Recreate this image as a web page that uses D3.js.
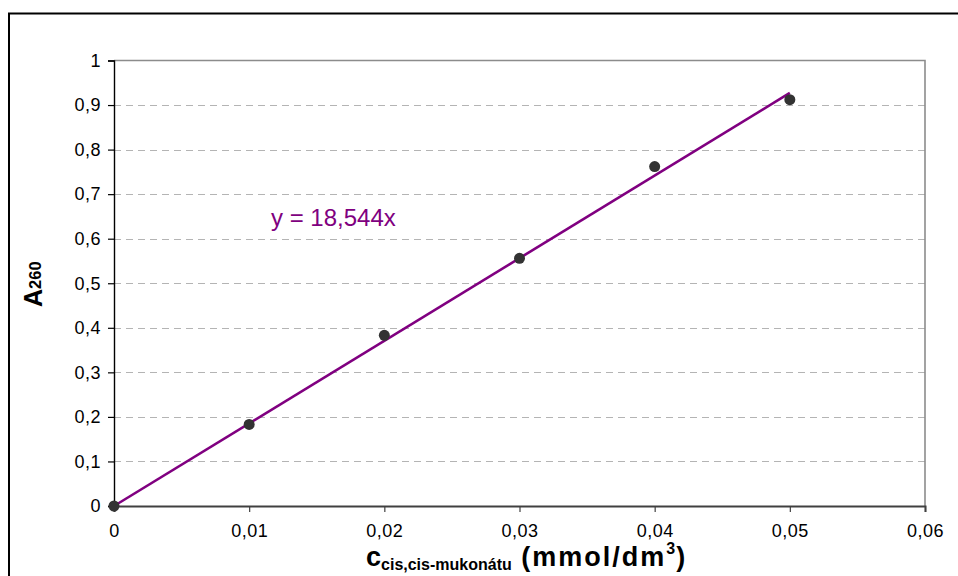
<!DOCTYPE html>
<html>
<head>
<meta charset="utf-8">
<script src="https://cdn.jsdelivr.net/npm/d3@7"></script>
<style>
  html, body { margin: 0; padding: 0; background: #fff; }
  svg { display: block; font-family: "Liberation Sans", Arial, sans-serif; }
</style>
</head>
<body>
<svg id="chart" width="958" height="576"></svg>
<script>
// Calibration data: concentration of cis,cis-muconate vs. absorbance at 260 nm
const concentrations = [0, 0.01, 0.02, 0.03, 0.04, 0.05];
const absorbances = [0, 0.183, 0.383, 0.556, 0.762, 0.912];
const slope = 18.544;             // linear fit through the origin
const fitRange = [0, 0.05];
const xTicks = [0, 0.01, 0.02, 0.03, 0.04, 0.05, 0.06];
const yTicks = [0, 0.1, 0.2, 0.3, 0.4, 0.5, 0.6, 0.7, 0.8, 0.9, 1];
const equationLabel = "y = 18,544x";

const svg = d3.select("#chart");
const plot = { left: 114, top: 60.5, right: 925, bottom: 506 };

const x = d3.scaleLinear().domain([0, 0.06]).range([plot.left, plot.right]);
const y = d3.scaleLinear().domain([0, 1]).range([plot.bottom, plot.top]);

const csLocale = d3.formatLocale({ decimal: ",", thousands: " ", grouping: [3], currency: ["", ""] });
const fmt = csLocale.format(".2~f");

// outer chart frame
svg.append("rect")
  .attr("x", 9).attr("y", 13.5).attr("width", 1000).attr("height", 1000)
  .attr("fill", "none").attr("stroke", "#000").attr("stroke-width", 2);

// horizontal dashed gridlines
svg.append("g")
  .selectAll("line")
  .data(yTicks.filter(d => d > 0 && d < 1))
  .join("line")
  .attr("x1", plot.left).attr("x2", plot.right)
  .attr("y1", d => Math.round(y(d)) + 0.5).attr("y2", d => Math.round(y(d)) + 0.5)
  .attr("stroke", "#b4b4b4").attr("stroke-width", 1)
  .attr("stroke-dasharray", "7,5");

// plot area top and right border
svg.append("path")
  .attr("d", `M${plot.left},${plot.top}H${plot.right}V${plot.bottom}`)
  .attr("fill", "none").attr("stroke", "#8c8c8c").attr("stroke-width", 1.6);

// y axis
const yAxis = svg.append("g")
  .attr("transform", `translate(${plot.left},0)`)
  .call(d3.axisLeft(y).tickValues(yTicks).tickFormat(fmt).tickSize(6).tickPadding(7));
yAxis.select(".domain").attr("stroke", "#000").attr("stroke-width", 1.4);
yAxis.selectAll(".tick line").attr("stroke", "#000").attr("stroke-width", 1.2);
yAxis.selectAll(".tick text")
  .attr("font-size", 18).attr("fill", "#000").attr("letter-spacing", 0.5)
  .attr("font-family", "'Liberation Sans', Arial, sans-serif");

// x axis
const xAxis = svg.append("g")
  .attr("transform", `translate(0,${plot.bottom})`)
  .call(d3.axisBottom(x).tickValues(xTicks).tickFormat(fmt).tickSize(6).tickPadding(12));
xAxis.select(".domain").attr("stroke", "#404040").attr("stroke-width", 2);
xAxis.selectAll(".tick line").attr("stroke", "#404040").attr("stroke-width", 1.2);
xAxis.selectAll(".tick text")
  .attr("font-size", 18).attr("fill", "#000").attr("letter-spacing", 0.5)
  .attr("font-family", "'Liberation Sans', Arial, sans-serif");

// trendline
const fit = fitRange.map(c => [c, slope * c]);
svg.append("path")
  .datum(fit)
  .attr("d", d3.line().x(d => x(d[0])).y(d => y(d[1])))
  .attr("fill", "none").attr("stroke", "#800080").attr("stroke-width", 2.6);

// measured points
svg.append("g")
  .selectAll("circle")
  .data(concentrations.map((c, i) => [c, absorbances[i]]))
  .join("circle")
  .attr("cx", d => x(d[0])).attr("cy", d => y(d[1]))
  .attr("r", 5.5).attr("fill", "#333333");

// regression equation
svg.append("text")
  .attr("x", 271).attr("y", 226)
  .attr("font-size", 24).attr("fill", "#800080")
  .text(equationLabel);

// x axis title
const xt = svg.append("text")
  .attr("x", 366).attr("y", 566)
  .attr("font-weight", "bold").attr("font-size", 27).attr("fill", "#000");
xt.append("tspan").text("c");
xt.append("tspan").attr("font-size", 16).attr("dy", 4).text("cis,cis-mukonátu");
xt.append("tspan").attr("dy", -4).attr("letter-spacing", 2).text(" (mmol/dm");
xt.append("tspan").attr("font-size", 16).attr("dy", -12).text("3");
xt.append("tspan").attr("dy", 12).attr("dx", 1).text(")");

// y axis title
const yt = svg.append("text")
  .attr("transform", "translate(42,307) rotate(-90)")
  .attr("font-weight", "bold").attr("font-size", 25).attr("fill", "#000");
yt.append("tspan").text("A");
yt.append("tspan").attr("font-size", 16.5).attr("dy", -1).text("260");
</script>
</body>
</html>
